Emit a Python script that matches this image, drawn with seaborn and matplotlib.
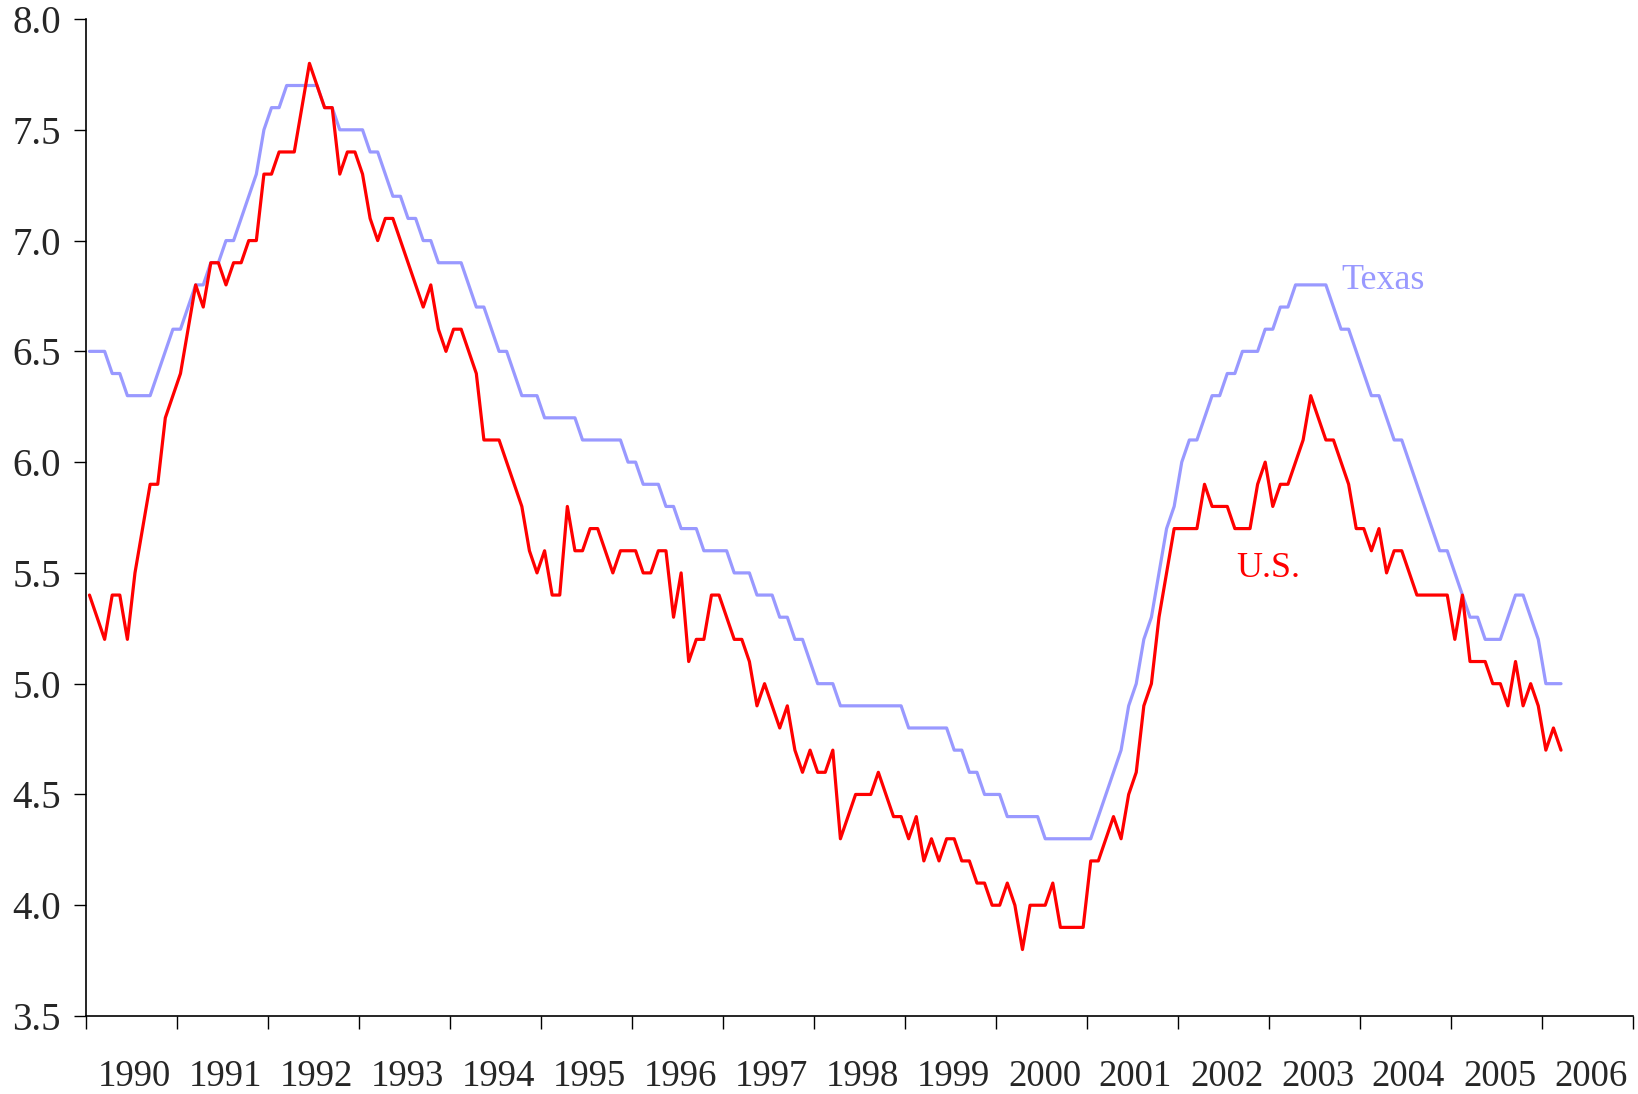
import matplotlib
matplotlib.use("Agg")
import matplotlib.pyplot as plt
import matplotlib.ticker as ticker
import seaborn as sns
import pandas as pd

sns.set_theme(style="ticks")
plt.rcParams["font.family"] = ["Liberation Serif", "DejaVu Serif"]

years = list(range(1990, 2007))

# monthly rates, Jan 1990 - Mar 2006
texas = [
    6.5, 6.5, 6.5, 6.4, 6.4, 6.3, 6.3, 6.3, 6.3, 6.4, 6.5, 6.6,  # 1990
    6.6, 6.7, 6.8, 6.8, 6.9, 6.9, 7.0, 7.0, 7.1, 7.2, 7.3, 7.5,  # 1991
    7.6, 7.6, 7.7, 7.7, 7.7, 7.7, 7.7, 7.6, 7.6, 7.5, 7.5, 7.5,  # 1992
    7.5, 7.4, 7.4, 7.3, 7.2, 7.2, 7.1, 7.1, 7.0, 7.0, 6.9, 6.9,  # 1993
    6.9, 6.9, 6.8, 6.7, 6.7, 6.6, 6.5, 6.5, 6.4, 6.3, 6.3, 6.3,  # 1994
    6.2, 6.2, 6.2, 6.2, 6.2, 6.1, 6.1, 6.1, 6.1, 6.1, 6.1, 6.0,  # 1995
    6.0, 5.9, 5.9, 5.9, 5.8, 5.8, 5.7, 5.7, 5.7, 5.6, 5.6, 5.6,  # 1996
    5.6, 5.5, 5.5, 5.5, 5.4, 5.4, 5.4, 5.3, 5.3, 5.2, 5.2, 5.1,  # 1997
    5.0, 5.0, 5.0, 4.9, 4.9, 4.9, 4.9, 4.9, 4.9, 4.9, 4.9, 4.9,  # 1998
    4.8, 4.8, 4.8, 4.8, 4.8, 4.8, 4.7, 4.7, 4.6, 4.6, 4.5, 4.5,  # 1999
    4.5, 4.4, 4.4, 4.4, 4.4, 4.4, 4.3, 4.3, 4.3, 4.3, 4.3, 4.3,  # 2000
    4.3, 4.4, 4.5, 4.6, 4.7, 4.9, 5.0, 5.2, 5.3, 5.5, 5.7, 5.8,  # 2001
    6.0, 6.1, 6.1, 6.2, 6.3, 6.3, 6.4, 6.4, 6.5, 6.5, 6.5, 6.6,  # 2002
    6.6, 6.7, 6.7, 6.8, 6.8, 6.8, 6.8, 6.8, 6.7, 6.6, 6.6, 6.5,  # 2003
    6.4, 6.3, 6.3, 6.2, 6.1, 6.1, 6.0, 5.9, 5.8, 5.7, 5.6, 5.6,  # 2004
    5.5, 5.4, 5.3, 5.3, 5.2, 5.2, 5.2, 5.3, 5.4, 5.4, 5.3, 5.2,  # 2005
    5.0, 5.0, 5.0,                                                # 2006
]

us = [
    5.4, 5.3, 5.2, 5.4, 5.4, 5.2, 5.5, 5.7, 5.9, 5.9, 6.2, 6.3,  # 1990
    6.4, 6.6, 6.8, 6.7, 6.9, 6.9, 6.8, 6.9, 6.9, 7.0, 7.0, 7.3,  # 1991
    7.3, 7.4, 7.4, 7.4, 7.6, 7.8, 7.7, 7.6, 7.6, 7.3, 7.4, 7.4,  # 1992
    7.3, 7.1, 7.0, 7.1, 7.1, 7.0, 6.9, 6.8, 6.7, 6.8, 6.6, 6.5,  # 1993
    6.6, 6.6, 6.5, 6.4, 6.1, 6.1, 6.1, 6.0, 5.9, 5.8, 5.6, 5.5,  # 1994
    5.6, 5.4, 5.4, 5.8, 5.6, 5.6, 5.7, 5.7, 5.6, 5.5, 5.6, 5.6,  # 1995
    5.6, 5.5, 5.5, 5.6, 5.6, 5.3, 5.5, 5.1, 5.2, 5.2, 5.4, 5.4,  # 1996
    5.3, 5.2, 5.2, 5.1, 4.9, 5.0, 4.9, 4.8, 4.9, 4.7, 4.6, 4.7,  # 1997
    4.6, 4.6, 4.7, 4.3, 4.4, 4.5, 4.5, 4.5, 4.6, 4.5, 4.4, 4.4,  # 1998
    4.3, 4.4, 4.2, 4.3, 4.2, 4.3, 4.3, 4.2, 4.2, 4.1, 4.1, 4.0,  # 1999
    4.0, 4.1, 4.0, 3.8, 4.0, 4.0, 4.0, 4.1, 3.9, 3.9, 3.9, 3.9,  # 2000
    4.2, 4.2, 4.3, 4.4, 4.3, 4.5, 4.6, 4.9, 5.0, 5.3, 5.5, 5.7,  # 2001
    5.7, 5.7, 5.7, 5.9, 5.8, 5.8, 5.8, 5.7, 5.7, 5.7, 5.9, 6.0,  # 2002
    5.8, 5.9, 5.9, 6.0, 6.1, 6.3, 6.2, 6.1, 6.1, 6.0, 5.9, 5.7,  # 2003
    5.7, 5.6, 5.7, 5.5, 5.6, 5.6, 5.5, 5.4, 5.4, 5.4, 5.4, 5.4,  # 2004
    5.2, 5.4, 5.1, 5.1, 5.1, 5.0, 5.0, 4.9, 5.1, 4.9, 5.0, 4.9,  # 2005
    4.7, 4.8, 4.7,                                                # 2006
]

y_ticks = [3.5, 4.0, 4.5, 5.0, 5.5, 6.0, 6.5, 7.0, 7.5, 8.0]

df = pd.DataFrame({
    "month": list(range(len(texas))) * 2,
    "rate": texas + us,
    "series": ["Texas"] * len(texas) + ["U.S."] * len(us),
})

colors = {"Texas": "#9999FF", "U.S.": "#FF0000"}

fig = plt.figure(figsize=(16.38, 10.94), dpi=100)
ax = fig.add_axes([0.0523, 0.0713, 0.9447, 0.9113])

sns.lineplot(data=df, x="month", y="rate", hue="series", palette=colors,
             linewidth=2.3, legend=False, ax=ax)

ax.set_xlim(-0.5, 12 * len(years) - 0.5)
ax.set_ylim(3.5, 8.0)

# year boundaries as major ticks, year labels centred between them
ax.xaxis.set_major_locator(ticker.FixedLocator([-0.5 + 12 * i for i in range(len(years) + 1)]))
ax.xaxis.set_major_formatter(ticker.NullFormatter())
ax.xaxis.set_minor_locator(ticker.FixedLocator([5.9 + 12 * i for i in range(len(years))]))
ax.xaxis.set_minor_formatter(ticker.FixedFormatter([str(y) for y in years]))
ax.tick_params(axis="x", which="major", direction="out", length=9, width=1, color="black")
ax.tick_params(axis="x", which="minor", length=0, pad=31, labelsize=26.5)

ax.set_yticks(y_ticks)
ax.yaxis.set_major_formatter(ticker.FormatStrFormatter("%.1f"))
ax.tick_params(axis="y", direction="out", length=9, width=1, color="black", pad=9, labelsize=28)

for s in ["top", "right"]:
    ax.spines[s].set_visible(False)
for s in ["left", "bottom"]:
    ax.spines[s].set_color("black")
    ax.spines[s].set_linewidth(1.2)

ax.set_xlabel("")
ax.set_ylabel("")
ax.grid(False)

ax.text(165.1, 6.82, "Texas", color=colors["Texas"], fontsize=26, ha="left", va="center")
ax.text(151.2, 5.52, "U.S.", color=colors["U.S."], fontsize=26, ha="left", va="center")

fig.savefig("out.png", dpi=100)
